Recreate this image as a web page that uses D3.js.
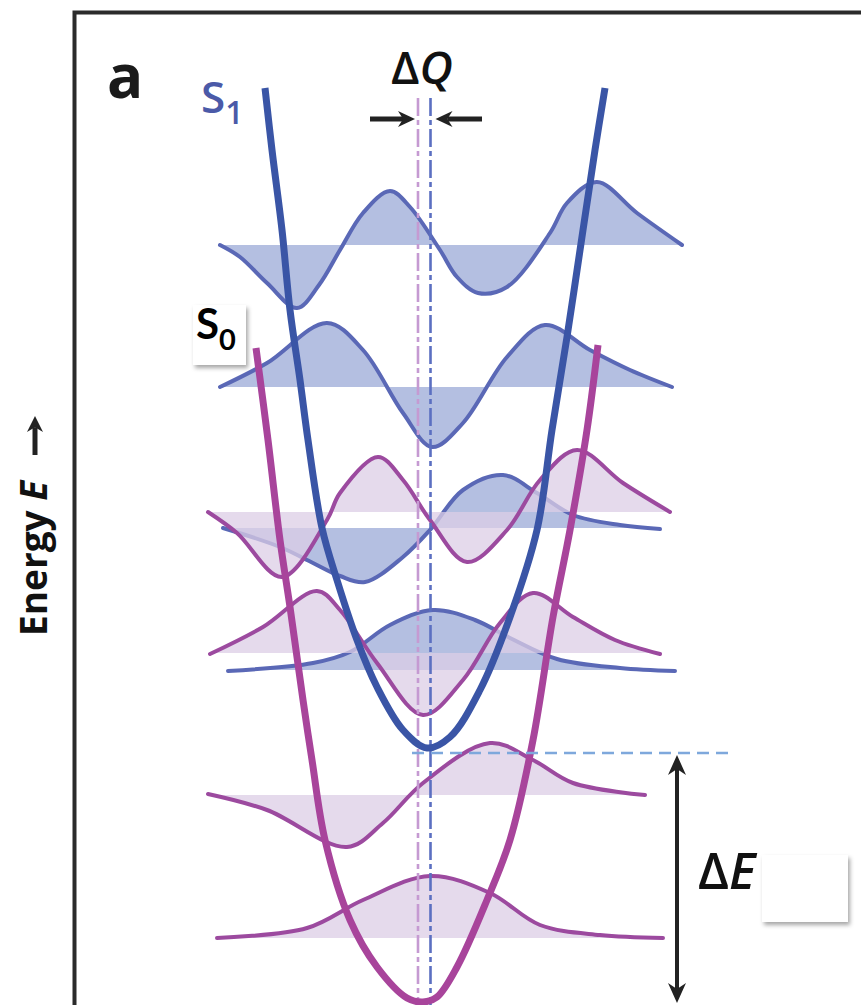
<!DOCTYPE html>
<html><head><meta charset="utf-8">
<script src="https://cdn.jsdelivr.net/npm/d3@7"></script>
<style>body{margin:0;background:#fff}svg{display:block}</style>
</head><body>
<svg id="c" width="861" height="1005"></svg>
<script>
// ---------- data (Q = nuclear coordinate, E = energy, arbitrary units) ----------
const s1Levels = [3.35, 4.77, 6.18, 7.60];
const s0Levels = [0.67, 2.10, 3.52, 4.93];

const s1Wave0 = [[-1.96,3.34],[-1.11,3.42],[-0.74,3.53],[-0.34,3.80],[0.09,3.95],[0.51,3.85],[0.86,3.67],[1.33,3.46],[1.96,3.37],[2.51,3.34]];
const s1Wave1 = [[-2.01,4.77],[-1.44,4.58],[-1.11,4.42],[-0.84,4.29],[-0.59,4.23],[-0.21,4.48],[0.06,4.75],[0.39,5.15],[0.79,5.30],[1.13,5.12],[1.49,4.90],[1.96,4.80],[2.36,4.76]];
const s1Wave2 = [[-2.04,6.18],[-1.57,6.42],[-0.97,6.82],[-0.61,6.55],[-0.21,5.92],[0.08,5.58],[0.39,5.82],[0.83,6.48],[1.21,6.80],[1.66,6.55],[2.06,6.35],[2.48,6.18]];
const s1Wave3 = [[-2.04,7.60],[-1.84,7.48],[-1.57,7.22],[-1.27,6.97],[-1.05,7.20],[-0.84,7.55],[-0.61,7.92],[-0.34,8.14],[-0.14,7.98],[0.16,7.55],[0.33,7.28],[0.54,7.12],[0.83,7.18],[1.26,7.72],[1.43,8.02],[1.73,8.23],[2.13,7.92],[2.58,7.60]];

const s0Wave0 = [[-2.07,0.67],[-1.17,0.77],[-0.61,1.05],[0.06,1.29],[0.66,1.12],[1.16,0.80],[1.76,0.70],[2.39,0.67]];
const s0Wave1 = [[-2.16,2.11],[-1.57,1.95],[-0.77,1.58],[-0.41,1.82],[-0.01,2.22],[0.66,2.62],[1.09,2.45],[1.49,2.22],[2.21,2.10]];
const s0Wave2 = [[-2.14,3.51],[-1.61,3.78],[-1.07,4.14],[-0.84,3.95],[-0.47,3.42],[-0.01,2.90],[0.39,3.25],[0.76,3.82],[1.09,4.12],[1.49,3.88],[1.91,3.65],[2.36,3.51]];
const s0Wave3 = [[-2.16,4.93],[-1.87,4.72],[-1.42,4.28],[-0.97,4.85],[-0.84,5.12],[-0.46,5.48],[-0.21,5.25],[0.06,4.85],[0.43,4.43],[0.83,4.75],[1.16,5.25],[1.53,5.55],[1.99,5.22],[2.46,4.93]];

const s1Curve = [[-1.59,9.17],[-1.52,8.55],[-1.42,7.75],[-1.34,6.95],[-1.24,6.25],[-1.16,5.65],[-1.02,4.77],[-0.87,4.25],[-0.67,3.65],[-0.47,3.18],[-0.21,2.75],[0.03,2.57],[0.26,2.68],[0.56,3.15],[0.86,3.88],[1.13,4.75],[1.28,5.75],[1.43,6.68],[1.59,7.75],[1.71,8.55],[1.81,9.17]];
const s0Curve = [[-1.68,6.57],[-1.56,5.65],[-1.44,4.65],[-1.34,3.98],[-1.21,3.05],[-1.12,2.45],[-0.99,1.65],[-0.74,0.85],[-0.47,0.38],[-0.17,0.07],[-0.01,0.03],[0.13,0.08],[0.33,0.38],[0.63,1.05],[0.86,1.65],[1.09,2.65],[1.29,3.88],[1.46,4.75],[1.63,5.75],[1.74,6.60]];

const qCenters = [-0.06, 0.065];       // S0, S1 equilibrium positions
const verticalRange = [0, 9.07];
const deltaQArrowE = 8.86;
const deltaQArrowTails = [-0.54, 0.58];
const s1ZeroE = 2.52;                  // dashed level
const dashedQRange = [-0.12, 3.06];
const deltaEArrow = {q: 2.53, e: [2.50, 0.02]};

const labels = {panel: "a", s1: ["S", "1"], s0: ["S", "0"], dq: ["Δ", "Q"], de: ["Δ", "E"], axis: ["Energy ", "E"]};

// ---------- scales ----------
const W = 861, H = 1005;
const x = d3.scaleLinear().domain([-2.5, 2.5]).range([174, 674]);
const y = d3.scaleLinear().domain([0, 10]).range([1005, 5]);

const svg = d3.select("#c");
const defs = svg.append("defs");
const f = defs.append("filter").attr("id","sh").attr("x","-20%").attr("y","-20%").attr("width","150%").attr("height","150%");
f.append("feDropShadow").attr("dx",2).attr("dy",3).attr("stdDeviation",2).attr("flood-color","#000").attr("flood-opacity",0.35);

const C = {
  s1Line: "#3a55a6", s1Wave: "#5a68b6", s1Fill: "#b4bfe1",
  s0Line: "#a8449b", s0Wave: "#9c4a9f", s0Fill: "#dccde5",
  s0Dash: "#c59ad2", s1Dash: "#5b6fc1", hDash: "#7ea8dc", frame: "#2b2b2b"
};

// frame
svg.append("rect").attr("x",74.5).attr("y",12.5).attr("width",W).attr("height",H)
  .attr("fill","none").attr("stroke",C.frame).attr("stroke-width",4);

const smooth = d3.curveCatmullRom.alpha(0.5);
const line = d3.line().x(d=>x(d[0])).y(d=>y(d[1])).curve(smooth);
const area = base => d3.area().x(d=>x(d[0])).y0(y(base)).y1(d=>y(d[1])).curve(smooth);

function drawWaves(waves, levels, fill, stroke, fillOpacity){
  const g = svg.append("g");
  waves.forEach((w,i)=>{
    g.append("path").attr("d", area(levels[i])(w)).attr("fill", fill).attr("fill-opacity", fillOpacity);
    g.append("path").attr("d", line(w)).attr("fill","none").attr("stroke", stroke).attr("stroke-width",4).attr("stroke-linecap","round");
  });
}
drawWaves([s1Wave0,s1Wave1,s1Wave2,s1Wave3], s1Levels, C.s1Fill, C.s1Wave, 1);
drawWaves([s0Wave0,s0Wave1,s0Wave2,s0Wave3], s0Levels, C.s0Fill, C.s0Wave, 0.75);

// vertical dash-dot lines
[[qCenters[0], C.s0Dash],[qCenters[1], C.s1Dash]].forEach(([q,c])=>{
  svg.append("line").attr("x1",x(q)).attr("x2",x(q)).attr("y1",y(verticalRange[1])).attr("y2",y(verticalRange[0]))
    .attr("stroke",c).attr("stroke-width",2.6).attr("stroke-dasharray","18,4,5,4");
});

// potential energy curves
const pes = d3.line().x(d=>x(d[0])).y(d=>y(d[1])).curve(d3.curveCatmullRom.alpha(0.5));
svg.append("path").attr("d",pes(s0Curve)).attr("fill","none").attr("stroke",C.s0Line).attr("stroke-width",7);
svg.append("path").attr("d",pes(s1Curve)).attr("fill","none").attr("stroke",C.s1Line).attr("stroke-width",7);

// dashed horizontal level
svg.append("line").attr("x1",x(dashedQRange[0])).attr("x2",x(dashedQRange[1])).attr("y1",y(s1ZeroE)).attr("y2",y(s1ZeroE))
  .attr("stroke",C.hDash).attr("stroke-width",2.6).attr("stroke-dasharray","12,7");

// arrow helper
function arrowHead(tx, ty, dx, dy, L, Wd){
  const n = Math.hypot(dx,dy); const ux = dx/n, uy = dy/n; const px = -uy, py = ux;
  const bx = tx - ux*L, by = ty - uy*L;
  const nx = tx - ux*L*0.7, ny = ty - uy*L*0.7;
  return `M${tx},${ty}L${bx+px*Wd},${by+py*Wd}L${nx},${ny}L${bx-px*Wd},${by-py*Wd}Z`;
}
function arrow(x1,y1,x2,y2,sw,L,Wd,both){
  const g = svg.append("g");
  const dx = x2-x1, dy = y2-y1, n = Math.hypot(dx,dy);
  const ux = dx/n, uy = dy/n;
  const sx = both ? x1 + ux*L*0.7 : x1, sy = both ? y1 + uy*L*0.7 : y1;
  g.append("line").attr("x1",sx).attr("y1",sy).attr("x2",x2-ux*L*0.7).attr("y2",y2-uy*L*0.7)
    .attr("stroke","#222").attr("stroke-width",sw);
  g.append("path").attr("d",arrowHead(x2,y2,dx,dy,L,Wd)).attr("fill","#222");
  if(both) g.append("path").attr("d",arrowHead(x1,y1,-dx,-dy,L,Wd)).attr("fill","#222");
}
// ΔQ arrows
arrow(x(deltaQArrowTails[0]), y(deltaQArrowE), x(qCenters[0]) - 3, y(deltaQArrowE), 5, 17, 8, false);
arrow(x(deltaQArrowTails[1]), y(deltaQArrowE), x(qCenters[1]) + 5, y(deltaQArrowE), 5, 17, 8, false);
// ΔE arrow
arrow(x(deltaEArrow.q), y(deltaEArrow.e[1]), x(deltaEArrow.q), y(deltaEArrow.e[0]), 4, 20, 9, true);

// texts
const ff = "'Open Sans', 'Noto Sans', sans-serif";
svg.append("text").attr("x",107).attr("y",98).attr("font-family",ff).attr("font-weight",700)
  .attr("font-size",60).attr("fill","#1a1a1a").text(labels.panel);

const t1 = svg.append("text").attr("x",201).attr("y",113).attr("font-family",ff).attr("font-weight",600).attr("fill","#4b5aa8");
t1.append("tspan").attr("font-size",44).text(labels.s1[0]);
t1.append("tspan").attr("font-size",32).attr("dy",11).text(labels.s1[1]);

// S0 box
svg.append("rect").attr("x",193).attr("y",305).attr("width",53).attr("height",60).attr("fill","#fff").attr("filter","url(#sh)");
const t0 = svg.append("text").attr("x",196).attr("y",339).attr("font-family","Lato, 'Open Sans', sans-serif").attr("font-weight",700).attr("fill","#000");
t0.append("tspan").attr("font-size",42).text(labels.s0[0]);
t0.append("tspan").attr("font-size",29).attr("dy",11).text(labels.s0[1]);

// ΔQ
const tq = svg.append("text").attr("x",391).attr("y",84).attr("font-family",ff).attr("font-weight",600).attr("font-size",46).attr("fill","#111");
tq.append("tspan").text(labels.dq[0]);
tq.append("tspan").attr("font-style","italic").text(labels.dq[1]);

// ΔE
const te = svg.append("text").attr("x",698).attr("y",889).attr("font-family",ff).attr("font-weight",600).attr("font-size",50).attr("fill","#111");
te.append("tspan").text(labels.de[0]);
te.append("tspan").attr("font-style","italic").text(labels.de[1]);
svg.append("rect").attr("x",762).attr("y",855).attr("width",86).attr("height",67).attr("fill","#fff").attr("filter","url(#sh)");

// axis label
const ta = svg.append("text").attr("transform","translate(47,636) rotate(-90)").attr("font-family",ff)
  .attr("font-weight",700).attr("font-size",37).attr("fill","#111");
ta.append("tspan").text(labels.axis[0]);
ta.append("tspan").attr("font-style","italic").text(labels.axis[1]);
arrow(35, 455, 35, 416, 5, 16, 8, false);
</script>
</body></html>
